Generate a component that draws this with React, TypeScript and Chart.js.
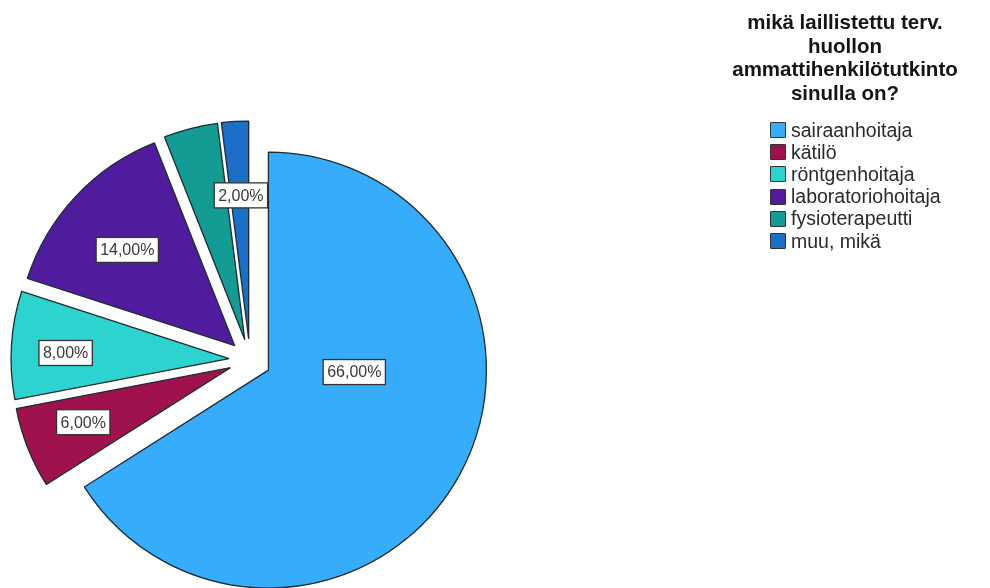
import React, { useEffect, useRef } from "react";
import { Chart, registerables } from "chart.js";

Chart.register(...registerables);

// ---- data ----
const TITLE_LINES = ["mikä laillistettu terv.", "huollon", "ammattihenkilötutkinto", "sinulla on?"];
const CATEGORIES = ["sairaanhoitaja", "kätilö", "röntgenhoitaja", "laboratoriohoitaja", "fysioterapeutti", "muu, mikä"];
const COUNTS = [33, 3, 4, 7, 2, 1];
const SHOW_LABEL = [true, true, true, true, false, true];

// ---- styles ----
const COLORS = ["#36ACFA", "#A0124E", "#2DD4CF", "#4F1C9E", "#139B94", "#1B6FC6"];
const EXPLODE = 21;
const LABEL_PLACE = [
  { f: 0.394, turn: -27.5 },
  { f: 0.72, turn: 1.3 },
  { f: 0.75, turn: -1.6 },
  { f: 0.66, turn: -1.5 },
  { f: 0.66, turn: 0 },
  { f: 0.66, turn: 0.5 },
];
const FONT = "Arial, 'Liberation Sans', sans-serif";

const explodePlugin = {
  id: "explodeAll",
  afterDatasetUpdate(chart: any, args: any) {
    const meta = chart.getDatasetMeta(args.index);
    meta.data.forEach((el: any) => {
      const mid = (el.startAngle + el.endAngle) / 2;
      el.x += Math.cos(mid) * EXPLODE;
      el.y += Math.sin(mid) * EXPLODE;
    });
  },
};

const labelPlugin = {
  id: "sliceLabels",
  afterDatasetsDraw(chart: any) {
    const ctx = chart.ctx as CanvasRenderingContext2D;
    const meta = chart.getDatasetMeta(0);
    const data = chart.data.datasets[0].data as number[];
    const total = data.reduce((a, b) => a + b, 0);
    ctx.save();
    ctx.font = `16px ${FONT}`;
    ctx.textAlign = "center";
    ctx.textBaseline = "middle";
    meta.data.forEach((el: any, i: number) => {
      if (!SHOW_LABEL[i]) return;
      const p = LABEL_PLACE[i];
      const ang = (el.startAngle + el.endAngle) / 2 + (p.turn * Math.PI) / 180;
      const r = el.outerRadius * p.f;
      const x = el.x + Math.cos(ang) * r;
      const y = el.y + Math.sin(ang) * r;
      const text = ((data[i] / total) * 100).toFixed(2).replace(".", ",") + "%";
      const w = ctx.measureText(text).width + 8;
      const h = 25;
      ctx.fillStyle = "#ffffff";
      ctx.fillRect(x - w / 2, y - h / 2, w, h);
      ctx.strokeStyle = "#333333";
      ctx.lineWidth = 1.3;
      ctx.strokeRect(x - w / 2, y - h / 2, w, h);
      ctx.fillStyle = "#3a3a3a";
      ctx.fillText(text, x, y + 1);
    });
    ctx.restore();
  },
};

export default function App() {
  const ref = useRef<HTMLCanvasElement | null>(null);

  useEffect(() => {
    if (!ref.current) return;
    const chart = new Chart(ref.current, {
      type: "pie",
      data: {
        labels: CATEGORIES,
        datasets: [
          {
            data: COUNTS,
            backgroundColor: COLORS,
            borderColor: "#1d2b33",
            borderWidth: 1.3,
            radius: 218,
          } as any,
        ],
      },
      options: {
        responsive: true,
        maintainAspectRatio: false,
        animation: false,
        layout: { padding: { left: 0, right: 490, top: 132, bottom: 0 } },
        plugins: {
          legend: { display: false },
          tooltip: { enabled: false },
        },
        events: [],
      } as any,
      plugins: [explodePlugin, labelPlugin],
    });
    return () => chart.destroy();
  }, []);

  return (
    <div style={{ position: "fixed", left: 0, top: 0, width: 990, height: 588, background: "#ffffff" }}>
      <div style={{ position: "absolute", left: 0, top: 0, width: 990, height: 588 }}>
        <canvas ref={ref} />
      </div>
      <div
        style={{
          position: "absolute",
          left: 725,
          top: 10,
          width: 240,
          textAlign: "center",
          fontFamily: FONT,
          fontWeight: "bold",
          fontSize: 20.5,
          lineHeight: "23.5px",
          color: "#151515",
          whiteSpace: "nowrap",
        }}
      >
        {TITLE_LINES.map((l) => (
          <div key={l}>{l}</div>
        ))}
      </div>
      <div style={{ position: "absolute", left: 770, top: 119, fontFamily: FONT, fontSize: 19.5, color: "#2a2a2a" }}>
        {CATEGORIES.map((c, i) => (
          <div key={c} style={{ display: "flex", alignItems: "center", height: 22.2, whiteSpace: "nowrap" }}>
            <span
              style={{
                display: "inline-block",
                width: 14,
                height: 14,
                background: COLORS[i],
                border: "1px solid #333",
                borderRadius: 1,
                marginRight: 5,
              }}
            />
            <span>{c}</span>
          </div>
        ))}
      </div>
    </div>
  );
}
